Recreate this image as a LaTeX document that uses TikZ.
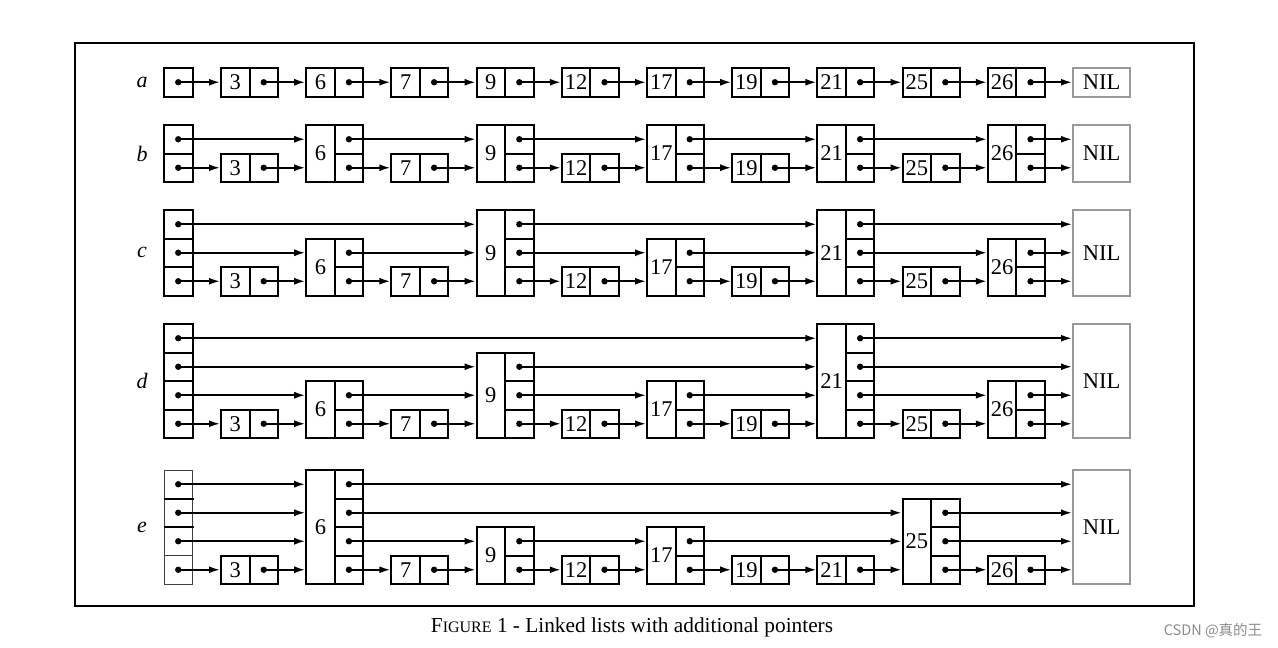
\documentclass[tikz,border=0pt]{standalone}
\usepackage{fontspec}
\setmainfont{Liberation Serif}
\newfontfamily\cjkfont{Noto Sans CJK SC}
\usetikzlibrary{arrows.meta}
\def\U{28.5}
\def\SP{85.2}
\def\XH{164}
\def\XN{221}
\tikzset{
  box/.style={draw, line width=2pt, inner sep=0pt, minimum width=28.5pt, font=\fontsize{22.5}{26}\selectfont},
  headthin/.style={draw=black!75, line width=0.8pt, inner sep=0pt, minimum width=28.5pt, minimum height=28.5pt},
  headbox/.style={box, minimum height=28.5pt},
  nilbox/.style={draw=black!40, line width=2pt, inner sep=0pt, minimum width=57pt, font=\fontsize{22.5}{26}\selectfont},
  ptr/.style={line width=1.8pt, -{Latex[length=11pt,width=7pt]}},
  lab/.style={font=\fontsize{22}{26}\selectfont\itshape},
}
% #1 name, #2 top y, #3 levels of head/NIL, #4 levels of the 10 nodes, #5 head cell style
\newcommand\listrow[5]{%
  \pgfmathsetmacro\bot{#2+#3*\U}%
  \expandafter\xdef\csname h@#1@0\endcsname{#3}%
  \expandafter\xdef\csname h@#1@11\endcsname{#3}%
  \foreach \h [count=\k] in {#4} {\expandafter\xdef\csname h@#1@\k\endcsname{\h}}%
  \node[lab] (lab-#1) at (142, {#2+#3*\U/2}) {#1};
  % head
  \foreach \l in {1,...,#3} {
    \node[#5] (#1-0-\l) at ({\XH+\U/2}, {\bot-(\l-0.5)*\U}) {};
  }
  % nodes
  \foreach \lbl [count=\k] in {3,6,7,9,12,17,19,21,25,26} {
    \edef\hh{\csname h@#1@\k\endcsname}%
    \pgfmathsetmacro\hgt{\hh*\U}%
    \pgfmathsetmacro\xx{\XN+(\k-1)*\SP}%
    \node[box, minimum height=\hgt pt] (#1-\k) at ({\xx+\U/2},{\bot-\hgt/2}) {\lbl};
    \foreach \l in {1,...,\hh} {
      \node[box, minimum height=28.5pt] (#1-\k-\l) at ({\xx+1.5*\U},{\bot-(\l-0.5)*\U}) {};
    }
  }
  % NIL
  \pgfmathsetmacro\hgt{#3*\U}%
  \node[nilbox, minimum height=\hgt pt] (#1-11) at ({\XN+10*\SP+\U},{#2+\hgt/2}) {NIL};
  % pointers, from right to left
  \foreach \l in {1,...,#3} {\expandafter\xdef\csname nx@\l\endcsname{11}}%
  \foreach \k in {10,9,...,0} {
    \edef\hh{\csname h@#1@\k\endcsname}%
    \foreach \l in {1,...,\hh} {
      \edef\tg{\csname nx@\l\endcsname}%
      \draw[ptr] (#1-\k-\l.center) -- (#1-\tg.west |- #1-\k-\l.center);
      \fill (#1-\k-\l.center) circle (3.2pt);
      \expandafter\xdef\csname nx@\l\endcsname{\k}%
    }
  }
}
\begin{document}
\begin{tikzpicture}[x=1pt, y=-1pt]
  \useasboundingbox (0,0) rectangle (1278,648);
  \fill[white] (0,0) rectangle (1278,648);
  \draw[line width=2.6pt] (75,43) rectangle (1194,606);
  \listrow{a}{68}{1}{1,1,1,1,1,1,1,1,1,1}{headbox}
  \listrow{b}{125}{2}{1,2,1,2,1,2,1,2,1,2}{headbox}
  \listrow{c}{210}{3}{1,2,1,3,1,2,1,3,1,2}{headbox}
  \listrow{d}{324}{4}{1,2,1,3,1,2,1,4,1,2}{headbox}
  \listrow{e}{470}{4}{1,4,1,2,1,2,1,1,3,1}{headthin}
  \draw[line width=2pt] (e-0-4.south west) -- ++(30,0);
  \draw[line width=2pt] (e-0-3.south west) -- ++(30,0);
  \node[font=\fontsize{21.3}{25}\selectfont] (caption) at (632,627)
    {F{\fontsize{16}{19}\selectfont IGURE} 1 - Linked lists with additional pointers};
  \node[font=\cjkfont\fontsize{14.5}{17}\selectfont, text=black!45] (mark) at (1213,631) {CSDN @真的王};
\end{tikzpicture}
\end{document}
